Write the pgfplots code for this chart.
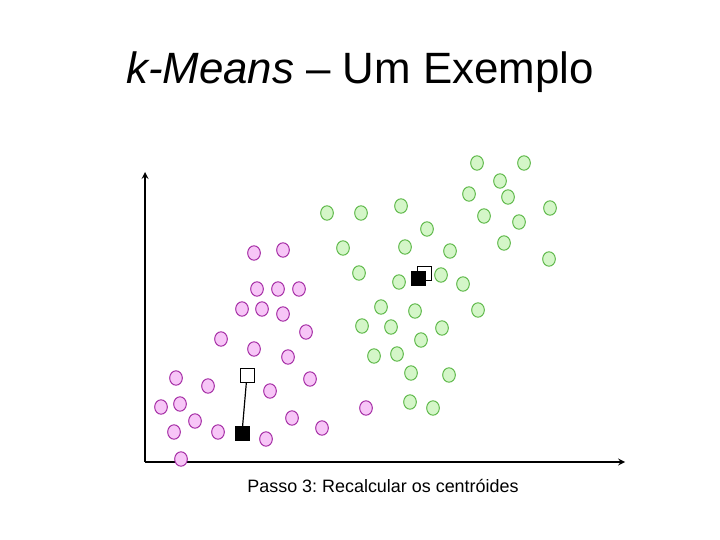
\documentclass[border=0pt]{standalone}
\usepackage{fontspec}
\setmainfont{Liberation Sans}
\usepackage{pgfplots}
\pgfplotsset{compat=1.18}
\definecolor{pinkfill}{RGB}{247,198,247}
\definecolor{pinkedge}{RGB}{165,45,165}
\definecolor{greenfill}{RGB}{212,246,200}
\definecolor{greenedge}{RGB}{95,185,75}

\begin{document}
\frenchspacing
\begin{tikzpicture}
\begin{axis}[
  scale only axis,
  width=720bp, height=540bp,
  xmin=0, xmax=720, ymin=0, ymax=540,
  y dir=reverse,
  hide axis,
  clip=false,
]
% axes with arrows
\addplot[black, line width=2pt, -stealth] coordinates {(145,462) (145,172)};
\addplot[black, line width=2pt, -stealth] coordinates {(145,462) (625,462)};

% pink cluster
\addplot[only marks, mark=*, mark size=7.2bp,
  mark options={xscale=0.88, fill=pinkfill, draw=pinkedge, line width=1pt}]
coordinates {
(254,253) (283,250)
(257,289) (278,289) (299,289)
(242,309) (262,309) (283,314)
(306,332) (221,339) (254,349) (288,357)
(176,378) (208,386) (310,379) (270,391)
(161,407) (180,404) (195,421) (292,418)
(174,432) (218,432) (322,428) (266,439)
(181,459) (366,408)
};

% green cluster
\addplot[only marks, mark=*, mark size=7.2bp,
  mark options={xscale=0.88, fill=greenfill, draw=greenedge, line width=1pt}]
coordinates {
(477,163) (524,163) (500,181) (469,194) (508,197) (550,208)
(327,213) (361,213) (401,206) (484,216) (519,222) (427,229)
(343,248) (405,247) (450,251) (504,243) (549,259)
(359,273) (399,282) (441,275) (463,284)
(381,307) (415,311) (478,310)
(362,326) (391,327) (442,328) (421,340)
(374,356) (397,354) (411,373) (449,375)
(410,402) (433,408)
};

% centroid shift (pink)
\addplot[black, line width=1.2pt] coordinates {(247,375) (242,433)};
\addplot[only marks, mark=square*, mark size=7bp,
  mark options={fill=white, draw=black, line width=1pt}]
coordinates {(247,375) (424,273)};
\addplot[only marks, mark=square*, mark size=7bp,
  mark options={fill=black, draw=black}]
coordinates {(242,433) (418,278)};

\node[font=\fontsize{44}{48}\selectfont, anchor=base] at (axis cs:360,84)
  {\textit{k-Means} – Um Exemplo};
\node[font=\fontsize{18}{21}\selectfont, anchor=base] at (axis cs:383,492)
  {Passo 3: Recalcular os centróides};
\end{axis}
\path (current axis.south west) rectangle (current axis.north east);
\end{tikzpicture}
\end{document}
